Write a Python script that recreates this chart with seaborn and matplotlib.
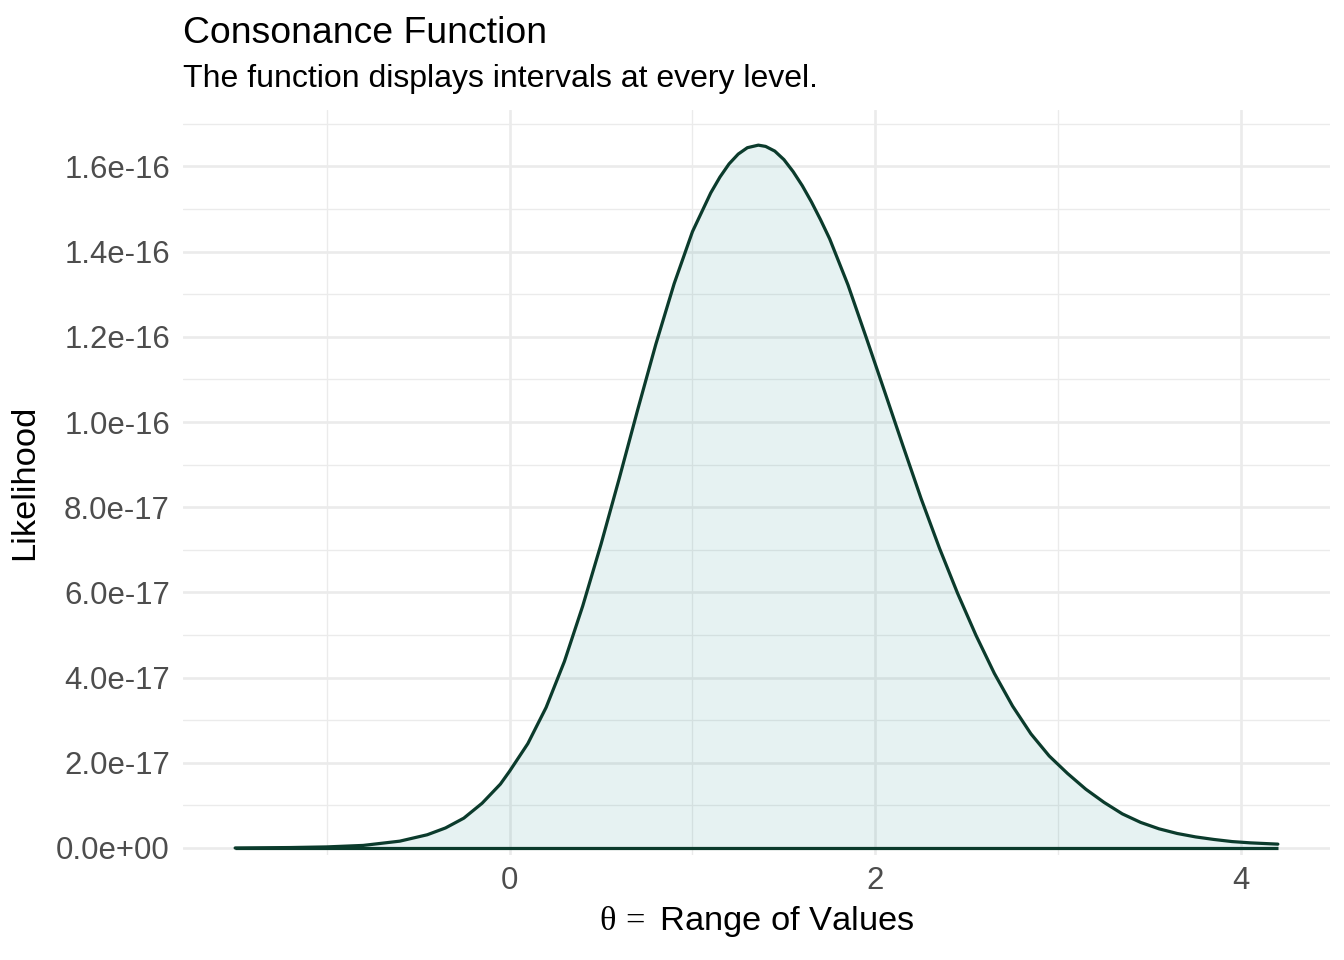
import matplotlib
matplotlib.use("Agg")
import matplotlib.pyplot as plt
import seaborn as sns
import pandas as pd
from matplotlib.ticker import FuncFormatter, FixedLocator

# ---- data (likelihood in units of 1e-17) ----
theta = [-1.5, -1.2, -1.0, -0.8, -0.6, -0.45, -0.35, -0.25, -0.15, -0.05,
         0.0, 0.1, 0.2, 0.3, 0.4, 0.5, 0.6, 0.7, 0.8, 0.9,
         1.0, 1.1, 1.15, 1.2, 1.25, 1.3, 1.36, 1.4, 1.45, 1.5,
         1.55, 1.6, 1.65, 1.7, 1.75, 1.85, 1.95, 2.05, 2.15, 2.25,
         2.35, 2.45, 2.55, 2.65, 2.75, 2.85, 2.95, 3.05, 3.15, 3.25,
         3.35, 3.45, 3.55, 3.65, 3.75, 3.85, 3.95, 4.05, 4.2]
lik_e17 = [0.0, 0.01, 0.025, 0.06, 0.16, 0.31, 0.47, 0.70, 1.05, 1.5,
           1.8, 2.45, 3.3, 4.38, 5.68, 7.13, 8.68, 10.28, 11.83, 13.25,
           14.47, 15.38, 15.75, 16.06, 16.29, 16.44, 16.5, 16.47, 16.36, 16.16,
           15.88, 15.55, 15.17, 14.75, 14.3, 13.22, 11.98, 10.72, 9.45, 8.2,
           7.04, 5.97, 4.99, 4.1, 3.33, 2.68, 2.16, 1.75, 1.38, 1.07,
           0.80, 0.60, 0.45, 0.34, 0.26, 0.20, 0.15, 0.12, 0.09]
x_ticks = [0, 2, 4]
x_minor = [-1, 1, 3]
y_ticks_e17 = [0, 2, 4, 6, 8, 10, 12, 14, 16]
y_minor_e17 = [1, 3, 5, 7, 9, 11, 13, 15, 17]

title = "Consonance Function"
subtitle = "The function displays intervals at every level."
xlab = r"$\theta\,=$ Range of Values"
ylab = "Likelihood"

likelihood = [v * 1e-17 for v in lik_e17]
df = pd.DataFrame({"theta": theta, "likelihood": likelihood})

sns.set_theme(style="white")
plt.rcParams["font.family"] = ["Liberation Sans", "DejaVu Sans"]
plt.rcParams["mathtext.fontset"] = "custom"
plt.rcParams["mathtext.rm"] = "Liberation Serif"
plt.rcParams["mathtext.it"] = "Liberation Serif"
plt.rcParams["mathtext.bf"] = "Liberation Serif:bold"

W, H = 1344, 960
fig = plt.figure(figsize=(7, 5), dpi=192)
L, R, T, B = 183, 1330, 110, 855
ax = fig.add_axes([L / W, 1 - B / H, (R - L) / W, (B - T) / H])

line_col = "#0B3B2C"
fill_col = "#0F8787"

ax.fill_between(df["theta"], 0, df["likelihood"], color=fill_col, alpha=0.1,
                zorder=2, lw=0)
sns.lineplot(data=df, x="theta", y="likelihood", ax=ax, color=line_col,
             lw=1.2, zorder=4, sort=True)
ax.plot([min(theta), max(theta)], [0, 0], color=line_col, lw=1.2, zorder=4,
        solid_capstyle="butt")

xr = max(theta) - min(theta)
ax.set_xlim(min(theta) - 0.05 * xr, max(theta) + 0.05 * xr)
ymax = max(likelihood)
ax.set_ylim(-0.01 * ymax, ymax * 1.05)

ax.xaxis.set_major_locator(FixedLocator(x_ticks))
ax.xaxis.set_minor_locator(FixedLocator(x_minor))
ax.yaxis.set_major_locator(FixedLocator([v * 1e-17 for v in y_ticks_e17]))
ax.yaxis.set_minor_locator(FixedLocator([v * 1e-17 for v in y_minor_e17]))
ax.yaxis.set_major_formatter(FuncFormatter(lambda v, p: f"{v:.1e}"))
ax.xaxis.set_major_formatter(FuncFormatter(lambda v, p: f"{v:g}"))

ax.grid(which="major", color="#EBEBEB", lw=1.0, zorder=0)
ax.grid(which="minor", color="#EBEBEB", lw=0.5, zorder=0)
ax.set_axisbelow(True)
for s in ax.spines.values():
    s.set_visible(False)
ax.tick_params(which="both", length=0)
ax.tick_params(axis="y", labelsize=11.7, labelcolor="#4D4D4D", pad=4.9)
ax.tick_params(axis="x", labelsize=11.7, labelcolor="#4D4D4D", pad=4.0)

ax.set_xlabel(xlab, fontsize=12.9, color="black", labelpad=3)
ax.set_ylabel(ylab, fontsize=12.9, color="black")
ax.yaxis.set_label_coords((40 - L) / (R - L), 0.5)

fig.text(L / W, 1 - 43 / H, title, fontsize=14, color="black", va="baseline")
fig.text(L / W, 1 - 87 / H, subtitle, fontsize=12, color="black", va="baseline")

fig.savefig("out.png", dpi=192, facecolor="white")
